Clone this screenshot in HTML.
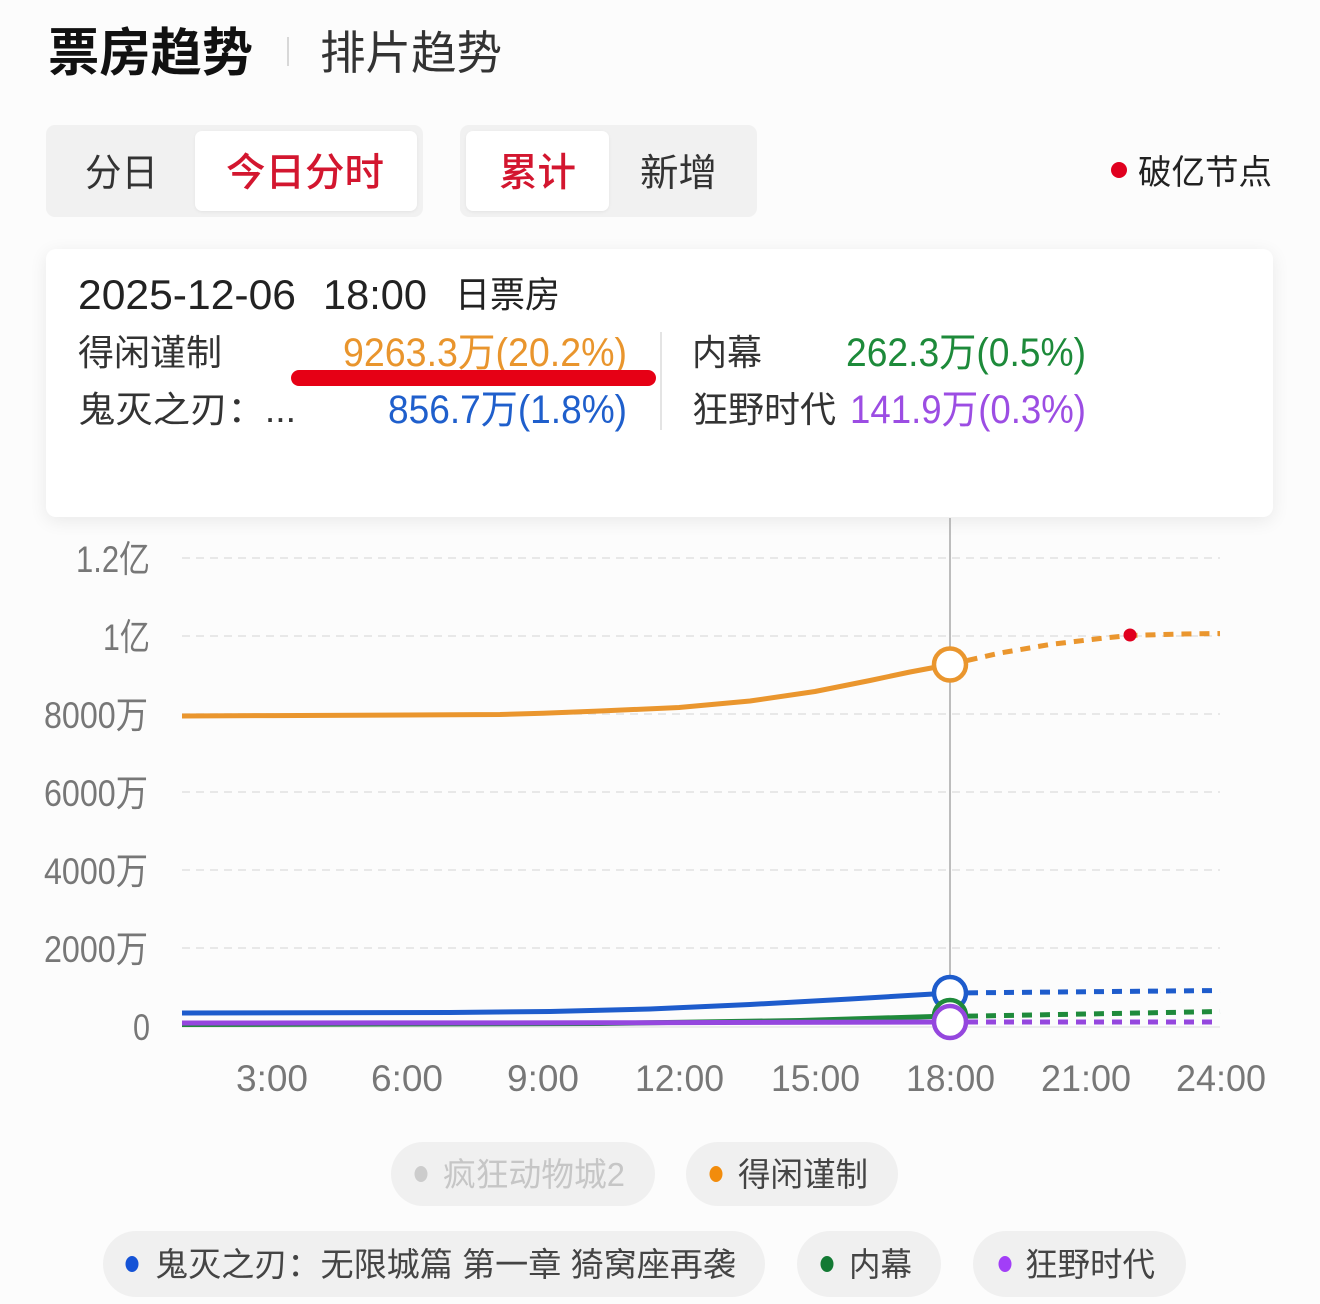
<!DOCTYPE html>
<html><head><meta charset="utf-8">
<style>
html,body{margin:0;padding:0;}
body{width:1320px;height:1304px;background:#fcfcfc;position:relative;overflow:hidden;font-family:"Liberation Sans","Noto Sans CJK SC",sans-serif;}
.box{position:absolute;background:#f1f1f1;border-radius:9px;}
.pill{position:absolute;background:#ffffff;border-radius:7px;box-shadow:0 1px 3px rgba(0,0,0,0.06);}
.card{position:absolute;left:46px;top:249px;width:1227px;height:268px;background:#fff;border-radius:10px;box-shadow:0 4px 18px rgba(0,0,0,0.08);}
svg{position:absolute;left:0;top:0;}
text{font-family:"Liberation Sans","Noto Sans CJK SC",sans-serif;}
</style></head><body>
<div class="box" style="left:46px;top:125px;width:377px;height:92px;"></div>
<div class="pill" style="left:195px;top:131px;width:222px;height:80px;"></div>
<div class="box" style="left:460px;top:125px;width:297px;height:92px;"></div>
<div class="pill" style="left:466px;top:131px;width:143px;height:80px;"></div>
<div class="card"></div>
<svg width="1320" height="1304" viewBox="0 0 1320 1304" xmlns="http://www.w3.org/2000/svg">
<!-- header -->
<text x="48" y="71" font-size="52" font-weight="700" fill="#111" textLength="205" lengthAdjust="spacingAndGlyphs">票房趋势</text>
<line x1="288" y1="37" x2="288" y2="66" stroke="#d8d8d8" stroke-width="2"/>
<text x="320" y="69" font-size="46" fill="#333" textLength="182" lengthAdjust="spacingAndGlyphs">排片趋势</text>
<text x="85" y="186" font-size="38" fill="#333" textLength="73" lengthAdjust="spacingAndGlyphs">分日</text>
<text x="226" y="186" font-size="39" font-weight="500" fill="#d3162f" textLength="158" lengthAdjust="spacingAndGlyphs">今日分时</text>
<text x="499" y="186" font-size="39" font-weight="500" fill="#d3162f" textLength="77" lengthAdjust="spacingAndGlyphs">累计</text>
<text x="640" y="186" font-size="38" fill="#333" textLength="77" lengthAdjust="spacingAndGlyphs">新增</text>
<circle cx="1119" cy="170" r="8" fill="#e0001f"/>
<text x="1138" y="184" font-size="34" fill="#222" textLength="134" lengthAdjust="spacingAndGlyphs">破亿节点</text>
<!-- tooltip -->
<text x="78" y="309" font-size="42" fill="#222" textLength="218" lengthAdjust="spacingAndGlyphs">2025-12-06</text>
<text x="323" y="309" font-size="42" fill="#222" textLength="104" lengthAdjust="spacingAndGlyphs">18:00</text>
<text x="455" y="307" font-size="36" fill="#222" textLength="105" lengthAdjust="spacingAndGlyphs">日票房</text>
<text x="78" y="365" font-size="36" fill="#333" textLength="144" lengthAdjust="spacingAndGlyphs">得闲谨制</text>
<text x="343" y="366" font-size="40" fill="#e9952d" textLength="284" lengthAdjust="spacingAndGlyphs">9263.3万(20.2%)</text>
<rect x="291" y="370" width="365" height="16" rx="8" fill="#e60015"/>
<line x1="661" y1="332" x2="661" y2="430" stroke="#e4e4e4" stroke-width="2"/>
<text x="692" y="365" font-size="36" fill="#333" textLength="70" lengthAdjust="spacingAndGlyphs">内幕</text>
<text x="846" y="366" font-size="40" fill="#1d8a3a" textLength="240" lengthAdjust="spacingAndGlyphs">262.3万(0.5%)</text>
<text x="78" y="422" font-size="36" fill="#333" textLength="218" lengthAdjust="spacingAndGlyphs">鬼灭之刃：...</text>
<text x="388" y="423" font-size="40" fill="#1f5fcc" textLength="239" lengthAdjust="spacingAndGlyphs">856.7万(1.8%)</text>
<text x="692" y="422" font-size="36" fill="#333" textLength="144" lengthAdjust="spacingAndGlyphs">狂野时代</text>
<text x="850" y="423" font-size="40" fill="#9c4de3" textLength="236" lengthAdjust="spacingAndGlyphs">141.9万(0.3%)</text>
<!-- grid -->
<g stroke="#e2e2e2" stroke-width="1.5" stroke-dasharray="8 6">
<line x1="182" y1="558" x2="1220" y2="558"/>
<line x1="182" y1="636" x2="1220" y2="636"/>
<line x1="182" y1="714" x2="1220" y2="714"/>
<line x1="182" y1="792" x2="1220" y2="792"/>
<line x1="182" y1="870" x2="1220" y2="870"/>
<line x1="182" y1="948" x2="1220" y2="948"/>
</g>
<line x1="182" y1="1027" x2="1220" y2="1027" stroke="#e6e6e6" stroke-width="1.5"/>
<!-- y labels -->
<g font-size="37" fill="#777">
<text x="76" y="572" textLength="74" lengthAdjust="spacingAndGlyphs">1.2亿</text>
<text x="103" y="650" textLength="47" lengthAdjust="spacingAndGlyphs">1亿</text>
<text x="44" y="728" textLength="104" lengthAdjust="spacingAndGlyphs">8000万</text>
<text x="44" y="806" textLength="104" lengthAdjust="spacingAndGlyphs">6000万</text>
<text x="44" y="884" textLength="104" lengthAdjust="spacingAndGlyphs">4000万</text>
<text x="44" y="962" textLength="104" lengthAdjust="spacingAndGlyphs">2000万</text>
<text x="133" y="1040" textLength="17" lengthAdjust="spacingAndGlyphs">0</text>
</g>
<!-- x labels -->
<g font-size="37" fill="#777">
<text x="236" y="1091" textLength="72" lengthAdjust="spacingAndGlyphs">3:00</text>
<text x="371" y="1091" textLength="72" lengthAdjust="spacingAndGlyphs">6:00</text>
<text x="507" y="1091" textLength="72" lengthAdjust="spacingAndGlyphs">9:00</text>
<text x="635" y="1091" textLength="89" lengthAdjust="spacingAndGlyphs">12:00</text>
<text x="771" y="1091" textLength="89" lengthAdjust="spacingAndGlyphs">15:00</text>
<text x="906" y="1091" textLength="89" lengthAdjust="spacingAndGlyphs">18:00</text>
<text x="1041" y="1091" textLength="90" lengthAdjust="spacingAndGlyphs">21:00</text>
<text x="1176" y="1091" textLength="90" lengthAdjust="spacingAndGlyphs">24:00</text>
</g>
<!-- crosshair -->
<line x1="950" y1="518" x2="950" y2="995" stroke="#a8a8a8" stroke-width="1.5"/>
<!-- series -->
<g fill="none" stroke-width="5" stroke-linecap="butt" stroke-linejoin="round">
<polyline stroke="#ea962e" points="182,716 272,715.6 407,715 500,714.5 543,713.2 600,711 679,707.5 750,701 815,691.5 870,680.5 910,672 950,664.5"/>
<polyline stroke="#ea962e" stroke-dasharray="10 8" points="950,664.5 1000,653 1050,644.5 1100,638.5 1130,635.5 1180,634 1220,633.5"/>
<polyline stroke="#1e5ccc" points="182,1013 450,1012.5 550,1011.5 650,1009 750,1004.5 850,999 950,993"/>
<polyline stroke="#1e5ccc" stroke-dasharray="10 8" points="950,993 1220,990.5"/>
<polyline stroke="#1f8a3b" points="182,1024.5 600,1023.5 800,1020.5 950,1016"/>
<polyline stroke="#1f8a3b" stroke-dasharray="10 8" points="950,1016.5 1220,1011.5"/>
<polyline stroke="#9547de" points="182,1023 600,1022.8 950,1022"/>
<polyline stroke="#9547de" stroke-dasharray="10 8" points="950,1022 1220,1022"/>
</g>
<circle cx="1130" cy="635" r="6.5" fill="#e0001f"/>
<g fill="#fff" stroke-width="4.5">
<circle cx="950" cy="664.5" r="16" stroke="#ea962e"/>
<circle cx="950" cy="993" r="16" stroke="#1e5ccc"/>
<circle cx="950" cy="1016" r="16" stroke="#1f8a3b"/>
<circle cx="950" cy="1022" r="16" stroke="#9547de"/>
</g>
<!-- legend -->
<g fill="#f0f0f0">
<rect x="391" y="1142" width="264" height="64" rx="32"/>
<rect x="686" y="1142" width="212" height="64" rx="32"/>
<rect x="103" y="1231" width="662" height="66" rx="33"/>
<rect x="797" y="1231" width="144" height="66" rx="33"/>
<rect x="973" y="1231" width="213" height="66" rx="33"/>
</g>
<ellipse cx="421" cy="1174" rx="6.5" ry="8" fill="#cccccc"/>
<ellipse cx="716" cy="1174" rx="6.5" ry="8" fill="#f28c0c"/>
<ellipse cx="132" cy="1264" rx="6.5" ry="8" fill="#1553d6"/>
<ellipse cx="827" cy="1264" rx="6.5" ry="8" fill="#137a34"/>
<ellipse cx="1005" cy="1264" rx="6.5" ry="8" fill="#a23ef7"/>
<g font-size="33">
<text x="443" y="1186" fill="#c6c6c6" textLength="182" lengthAdjust="spacingAndGlyphs">疯狂动物城2</text>
<text x="738" y="1186" fill="#444" textLength="130" lengthAdjust="spacingAndGlyphs">得闲谨制</text>
<text x="155" y="1276" fill="#444" textLength="581" lengthAdjust="spacingAndGlyphs">鬼灭之刃：无限城篇 第一章 猗窝座再袭</text>
<text x="849" y="1276" fill="#444" textLength="63" lengthAdjust="spacingAndGlyphs">内幕</text>
<text x="1025" y="1276" fill="#444" textLength="130" lengthAdjust="spacingAndGlyphs">狂野时代</text>
</g>
</svg>
</body></html>
